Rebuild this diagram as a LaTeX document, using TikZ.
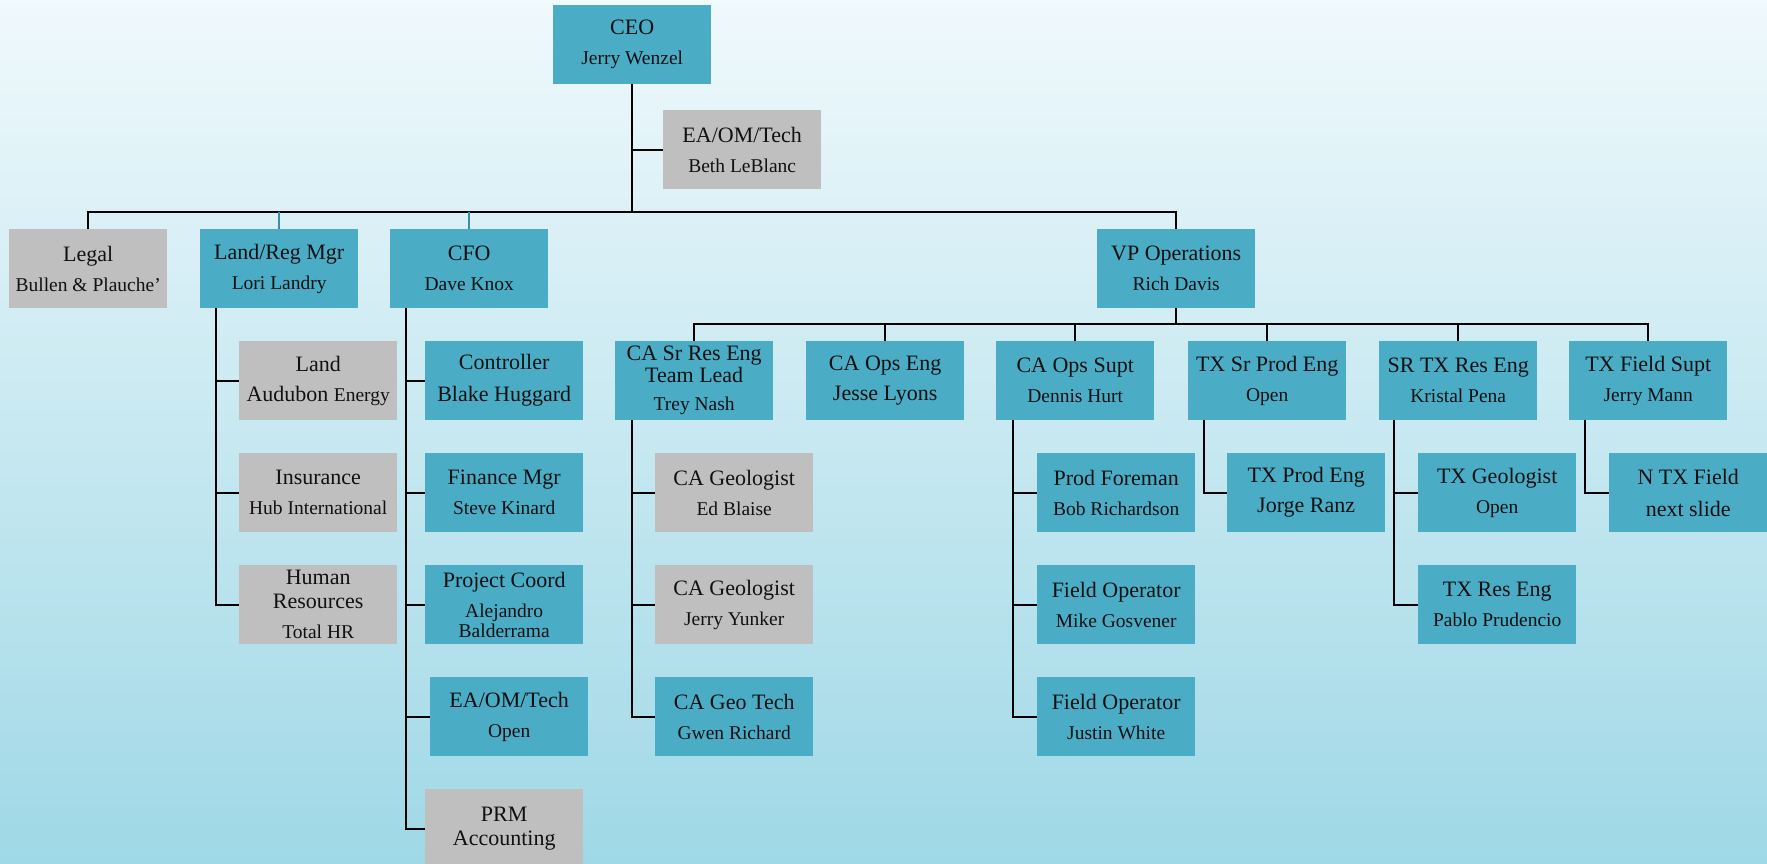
\documentclass[tikz,border=0pt]{standalone}
\usepackage{fontspec}
\setmainfont{Liberation Serif}
\definecolor{boxteal}{HTML}{4BACC6}
\definecolor{boxgray}{HTML}{BFBFBF}
\definecolor{bgtop}{HTML}{F0F9FC}
\definecolor{bgbot}{HTML}{9FD8E6}
\definecolor{txt}{HTML}{111111}
\definecolor{tealline}{HTML}{3A8FA6}
\newcommand{\nm}[1]{{\fontsize{19.5}{20}\selectfont #1}}
\tikzset{
  tb/.style={rectangle, fill=boxteal, minimum width=158pt, minimum height=79pt,
    inner sep=0pt, anchor=north west, align=center, text=txt,
    font=\fontsize{22}{24}\selectfont},
  gb/.style={tb, fill=boxgray},
  conn/.style={draw=black, line width=2.2pt},
  tconn/.style={draw=tealline, line width=1.6pt}
}
\begin{document}
\begin{tikzpicture}[x=1pt,y=-1pt]
\useasboundingbox (0,0) rectangle (1767,864);
\clip (0,0) rectangle (1767,864);
\shade[top color=bgtop, bottom color=bgbot] (0,0) rectangle (1767,864);
\coordinate (bus) at (0,212);
\coordinate (vbus) at (0,324);

% level 1
\node[tb] (ceo) at (553,5) {CEO\\[6pt]\nm{Jerry Wenzel}};
\node[gb] (beth) at (663,110) {EA/OM/Tech\\[6pt]\nm{Beth LeBlanc}};
% level 2
\node[gb] (legal) at (9,229) {Legal\\[6pt]\nm{Bullen \& Plauche’}};
\node[tb] (landreg) at (200,229) {Land/Reg Mgr\\[6pt]\nm{Lori Landry}};
\node[tb] (cfo) at (390,229) {CFO\\[6pt]\nm{Dave Knox}};
\node[tb] (vp) at (1097,229) {VP Operations\\[6pt]\nm{Rich Davis}};
% VP children
\node[tb] (casr) at (615,341) {CA Sr Res Eng\\[-2pt]Team Lead\\[4pt]\nm{Trey Nash}};
\node[tb] (caopseng) at (806,341) {CA Ops Eng\\[6pt]Jesse Lyons};
\node[tb] (caopssupt) at (996,341) {CA Ops Supt\\[6pt]\nm{Dennis Hurt}};
\node[tb] (txsrprod) at (1188,341) {TX Sr Prod Eng\\[6pt]\nm{Open}};
\node[tb] (srtxres) at (1379,341) {SR TX Res Eng\\[6pt]\nm{Kristal Pena}};
\node[tb] (txfield) at (1569,341) {TX Field Supt\\[6pt]\nm{Jerry Mann}};
% Land/Reg children
\node[gb] (land) at (239,341) {Land\\[6pt]Audubon \nm{Energy}};
\node[gb] (insur) at (239,453) {Insurance\\[6pt]\nm{Hub International}};
\node[gb] (hr) at (239,565) {Human\\Resources\\[6pt]\nm{Total HR}};
% CFO children
\node[tb] (ctrl) at (425,341) {Controller\\[8pt]Blake Huggard};
\node[tb] (fin) at (425,453) {Finance Mgr\\[6pt]\nm{Steve Kinard}};
\node[tb] (proj) at (425,565) {Project Coord\\[6pt]\nm{Alejandro}\\[-4pt]\nm{Balderrama}};
\node[tb] (eaopen) at (430,677) {EA/OM/Tech\\[6pt]\nm{Open}};
\node[gb] (prm) at (425,789) {PRM\\Accounting};
% CA Sr Res children
\node[gb] (cageo1) at (655,453) {CA Geologist\\[6pt]\nm{Ed Blaise}};
\node[gb] (cageo2) at (655,565) {CA Geologist\\[6pt]\nm{Jerry Yunker}};
\node[tb] (cageotech) at (655,677) {CA Geo Tech\\[6pt]\nm{Gwen Richard}};
% CA Ops Supt children
\node[tb] (prodfore) at (1037,453) {Prod Foreman\\[6pt]\nm{Bob Richardson}};
\node[tb] (fop1) at (1037,565) {Field Operator\\[6pt]\nm{Mike Gosvener}};
\node[tb] (fop2) at (1037,677) {Field Operator\\[6pt]\nm{Justin White}};
% TX children
\node[tb] (txprod) at (1227,453) {TX Prod Eng\\[6pt]Jorge Ranz};
\node[tb] (txgeo) at (1418,453) {TX Geologist\\[6pt]\nm{Open}};
\node[tb] (txres) at (1418,565) {TX Res Eng\\[6pt]\nm{Pablo Prudencio}};
\node[tb] (ntx) at (1609,453) {N TX Field\\[8pt]next slide};

% connectors: top
\draw[conn] (ceo.south) -- (ceo.south |- bus);
\draw[conn] (ceo.south |- beth.west) -- (beth.west);
\draw[conn] (legal.north) -- (legal.north |- bus) -- (vp.north |- bus) -- (vp.north);
\draw[tconn] (landreg.north |- bus) -- (landreg.north);
\draw[tconn] (cfo.north |- bus) -- (cfo.north);
% VP bus
\draw[conn] (vp.south) -- (vp.south |- vbus);
\draw[conn] (casr.north) -- (casr.north |- vbus) -- (txfield.north |- vbus) -- (txfield.north);
\foreach \n in {caopseng,caopssupt,txsrprod,srtxres}
  \draw[conn] (\n.north |- vbus) -- (\n.north);
% side branches
\draw[conn] ([xshift=16pt]landreg.south west) |- (hr.west);
\draw[conn] ([xshift=16pt]landreg.south west) |- (land.west);
\draw[conn] ([xshift=16pt]landreg.south west) |- (insur.west);
\draw[conn] ([xshift=16pt]cfo.south west) |- (prm.west);
\foreach \n in {ctrl,fin,proj,eaopen}
  \draw[conn] ([xshift=16pt]cfo.south west) |- (\n.west);
\draw[conn] ([xshift=17pt]casr.south west) |- (cageotech.west);
\foreach \n in {cageo1,cageo2}
  \draw[conn] ([xshift=17pt]casr.south west) |- (\n.west);
\draw[conn] ([xshift=17pt]caopssupt.south west) |- (fop2.west);
\foreach \n in {prodfore,fop1}
  \draw[conn] ([xshift=17pt]caopssupt.south west) |- (\n.west);
\draw[conn] ([xshift=16pt]txsrprod.south west) |- (txprod.west);
\draw[conn] ([xshift=15pt]srtxres.south west) |- (txres.west);
\draw[conn] ([xshift=15pt]srtxres.south west) |- (txgeo.west);
\draw[conn] ([xshift=16pt]txfield.south west) |- (ntx.west);
\end{tikzpicture}
\end{document}
